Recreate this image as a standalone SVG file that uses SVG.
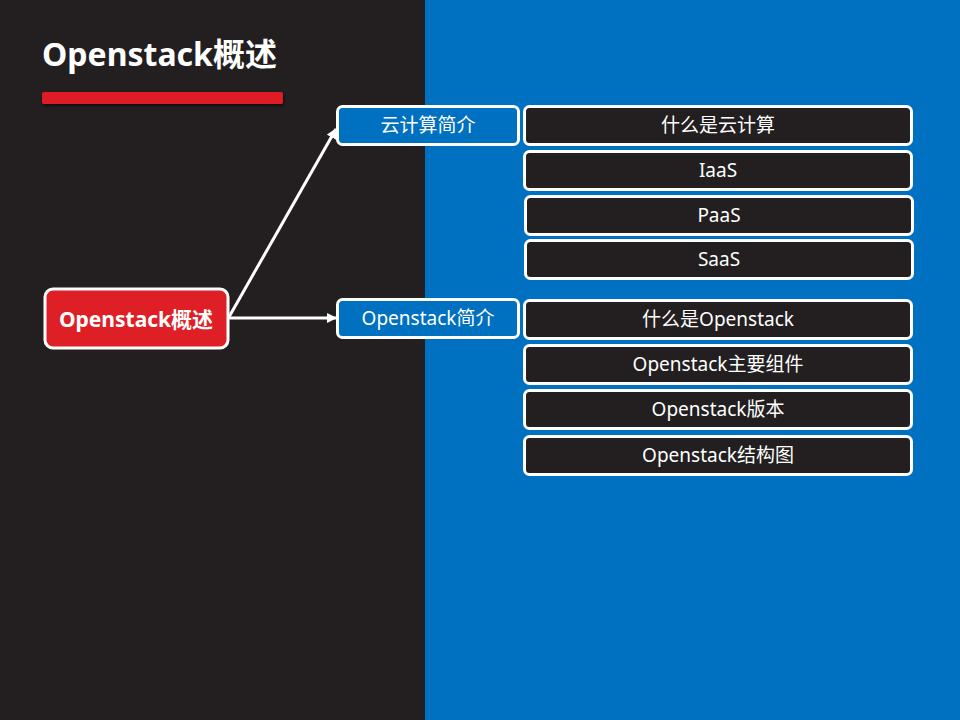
<svg xmlns="http://www.w3.org/2000/svg" width="960" height="720" viewBox="0 0 960 720">
<defs>
<style>
text{font-family:"Noto Sans","Noto Sans CJK SC",sans-serif;fill:#fff;text-anchor:middle;dominant-baseline:central}
.l1{fill:#0070c0;stroke:#fff;stroke-width:3}
.l2{fill:#231f20;stroke:#fff;stroke-width:3}
.t1{font-size:19px}
.t2{font-size:19px}
.conn{stroke:#fff;stroke-width:3;fill:none;marker-end:url(#arr)}
</style>
<marker id="arr" viewBox="0 0 10 10" refX="9" refY="5" markerWidth="3.5" markerHeight="3.5" orient="auto" markerUnits="strokeWidth">
<path d="M0,0L10,5L0,10z" fill="#fff"/>
</marker>
<filter id="sh" x="-5%" y="-50%" width="110%" height="250%">
<feDropShadow dx="1" dy="2" stdDeviation="1.5" flood-color="#000" flood-opacity="0.6"/>
</filter>
</defs>
<rect x="0" y="0" width="425" height="720" fill="#231f20"/>
<rect x="425" y="0" width="535" height="720" fill="#0070c0"/>
<text x="42" y="53" style="font-size:32px;font-weight:bold;text-anchor:start">Openstack概述</text>
<rect x="42" y="92" width="241" height="12" rx="2" fill="#df1f26" filter="url(#sh)"/>
<g id="connectors">
<line class="conn" x1="229" y1="317" x2="336" y2="129"/>
<line class="conn" x1="229" y1="318" x2="336" y2="318"/>
</g>
<g id="root">
<rect x="45" y="289" width="183" height="59" rx="8" fill="#df1f26" stroke="#fff" stroke-width="3"/>
<text x="136" y="319" style="font-size:21px;font-weight:bold">Openstack概述</text>
</g>
<g id="cloud">
<rect class="l1" x="337.5" y="106.5" width="181" height="38" rx="5"/>
<text class="t1" x="428" y="125">云计算简介</text>
</g>
<g id="openstack">
<rect class="l1" x="337.5" y="299.5" width="181" height="38" rx="5"/>
<text class="t1" x="428" y="318">Openstack简介</text>
</g>
<g id="c1"><rect class="l2" x="524.5" y="106.5" width="387" height="38" rx="5"/><text class="t2" x="718" y="125">什么是云计算</text></g>
<g id="c2"><rect class="l2" x="524.5" y="151.5" width="387" height="38" rx="5"/><text class="t2" x="718" y="170">IaaS</text></g>
<g id="c3"><rect class="l2" x="525.5" y="196.5" width="387" height="38" rx="5"/><text class="t2" x="719" y="215">PaaS</text></g>
<g id="c4"><rect class="l2" x="525.5" y="240.5" width="387" height="38" rx="5"/><text class="t2" x="719" y="259">SaaS</text></g>
<g id="o1"><rect class="l2" x="524.5" y="300.5" width="387" height="38" rx="5"/><text class="t2" x="718" y="319">什么是Openstack</text></g>
<g id="o2"><rect class="l2" x="524.5" y="345.5" width="387" height="38" rx="5"/><text class="t2" x="718" y="364">Openstack主要组件</text></g>
<g id="o3"><rect class="l2" x="524.5" y="390.5" width="387" height="38" rx="5"/><text class="t2" x="718" y="409">Openstack版本</text></g>
<g id="o4"><rect class="l2" x="524.5" y="436.5" width="387" height="38" rx="5"/><text class="t2" x="718" y="455">Openstack结构图</text></g>
</svg>
